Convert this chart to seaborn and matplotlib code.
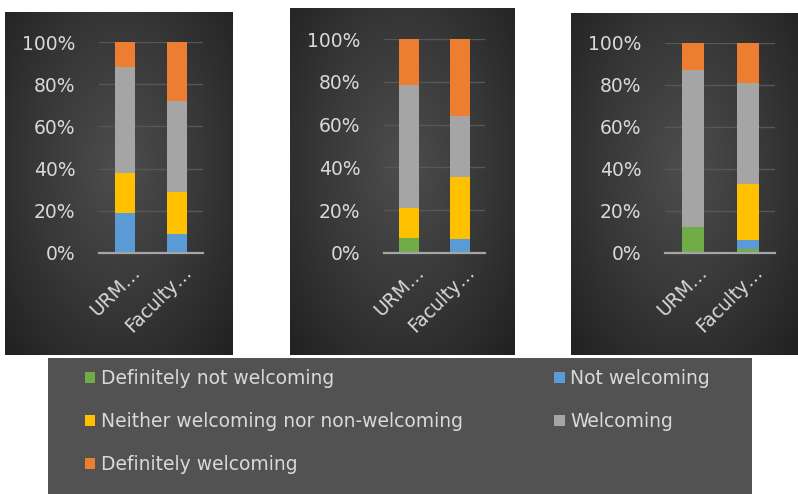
import numpy as np
import pandas as pd
import matplotlib
matplotlib.use("Agg")
import matplotlib.pyplot as plt
import matplotlib.transforms as mtransforms
from matplotlib.colors import LinearSegmentedColormap
from matplotlib.patches import Rectangle
import seaborn as sns

sns.set_style("white")
plt.rcParams['font.family'] = ['DejaVu Sans']

# ---------------- data ----------------
categories = ["URM…", "Faculty…"]
series = ["Definitely not welcoming", "Not welcoming",
          "Neither welcoming nor non-welcoming", "Welcoming", "Definitely welcoming"]
colors = ["#70AD47", "#5B9BD5", "#FFC000", "#A5A5A5", "#ED7D31"]
yticks = [0, 20, 40, 60, 80, 100]
ytick_labels = ["0%", "20%", "40%", "60%", "80%", "100%"]

# panel 1
p1_def_not = [0, 0]
p1_not = [19, 9]
p1_neither = [19, 20]
p1_welcoming = [50, 43]
p1_def_welcoming = [12, 28]
# panel 2
p2_def_not = [7, 0]
p2_not = [0, 6.5]
p2_neither = [14, 29]
p2_welcoming = [57.5, 28.5]
p2_def_welcoming = [21.5, 36]
# panel 3
p3_def_not = [12.5, 2]
p3_not = [0, 4]
p3_neither = [0, 27]
p3_welcoming = [74.5, 48]
p3_def_welcoming = [13, 19]

panels = [
    [p1_def_not, p1_not, p1_neither, p1_welcoming, p1_def_welcoming],
    [p2_def_not, p2_not, p2_neither, p2_welcoming, p2_def_welcoming],
    [p3_def_not, p3_not, p3_neither, p3_welcoming, p3_def_welcoming],
]

# ---------------- layout (pixels) ----------------
W, H = 798, 494
fig = plt.figure(figsize=(W / 100, H / 100), dpi=100, facecolor="white")

def px_rect(x0, y0, x1, y1):
    return [x0 / W, (H - y1) / H, (x1 - x0) / W, (y1 - y0) / H]

panel_rects = [(5, 12, 233, 355), (290, 8, 515, 355), (571, 13, 798, 355)]
plot_rects = [(99, 42, 203, 253), (384, 39, 485, 253), (665, 43, 775, 253)]

grad_cmap = LinearSegmentedColormap.from_list("g", ["#4d4d4d", "#373737", "#1e1e1e"])

def add_bg(rect, cmap, cy=0.55, spread=0.75):
    bg = fig.add_axes(px_rect(*rect), zorder=0)
    yy, xx = np.mgrid[1:0:300j, 0:1:300j]
    r = np.sqrt(((xx - 0.5) / spread) ** 2 + ((yy - cy) / (spread * 1.1)) ** 2)
    bg.imshow(np.clip(r, 0, 1), cmap=cmap, extent=(0, 1, 0, 1), aspect="auto",
              vmin=0, vmax=1, origin="upper")
    bg.set_axis_off()
    return bg

text_col = "#D9D9D9"
label_shift = mtransforms.ScaledTranslation(0.12, -0.08, fig.dpi_scale_trans)

for prect, rect, vals in zip(panel_rects, plot_rects, panels):
    add_bg(prect, grad_cmap)
    ax = fig.add_axes(px_rect(*rect), zorder=2)
    ax.patch.set_alpha(0)
    cum = np.cumsum(np.array(vals, dtype=float), axis=0)
    # draw from the top of the stack downward so lower segments overlay
    for k in range(len(series) - 1, -1, -1):
        df = pd.DataFrame({"cat": categories, "val": cum[k]})
        sns.barplot(data=df, x="cat", y="val", order=categories, color=colors[k],
                    saturation=1, width=0.4, linewidth=0, ax=ax, zorder=3)
    ax.set_xlim(-0.5, 1.5)
    ax.set_ylim(0, 100)
    ax.set_yticks(yticks)
    ax.set_yticklabels(ytick_labels)
    ax.set_xlabel("")
    ax.set_ylabel("")
    for s in ["top", "right", "left"]:
        ax.spines[s].set_visible(False)
    ax.spines["bottom"].set_color("#A6A6A6")
    ax.spines["bottom"].set_linewidth(1.6)
    ax.spines["bottom"].set_zorder(4)
    ax.yaxis.grid(True, color="#575757", linewidth=1.0, zorder=0)
    ax.set_axisbelow(True)
    ax.tick_params(axis="y", length=0, pad=17, labelsize=13.5, labelcolor=text_col)
    ax.tick_params(axis="x", length=0, pad=6, labelsize=13.5, labelcolor=text_col)
    for lab in ax.get_xticklabels():
        lab.set_rotation(45)
        lab.set_ha("right")
        lab.set_va("center")
        lab.set_rotation_mode("anchor")
        lab.set_transform(lab.get_transform() + label_shift)

# ---------------- legend panel ----------------
lax = fig.add_axes(px_rect(48, 358, 752, 494), zorder=1)
lax.set_facecolor("#525252")
lax.set_xticks([])
lax.set_yticks([])
for s in lax.spines.values():
    s.set_visible(False)

handles = [Rectangle((0, 0), 1, 1, facecolor=c, edgecolor="none") for c in colors]
order = [0, 2, 4, 1, 3]
leg = lax.legend([handles[i] for i in order], [series[i] for i in order],
                 ncol=2, loc="upper left", bbox_to_anchor=(0.052, 0.918),
                 frameon=False, fontsize=13.5, labelcolor=text_col,
                 handlelength=0.55, handleheight=0.55, handletextpad=0.3,
                 labelspacing=1.28, columnspacing=4.9, borderpad=0, borderaxespad=0)

fig.savefig("out.png", dpi=100, facecolor="white")
